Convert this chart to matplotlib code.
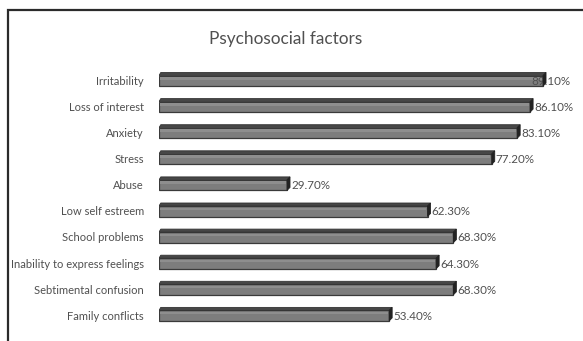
import matplotlib
matplotlib.use("Agg")
import matplotlib.pyplot as plt
from matplotlib.patches import Polygon, Rectangle

categories = [
    "Irritability",
    "Loss of interest",
    "Anxiety",
    "Stress",
    "Abuse",
    "Low self estreem",
    "School problems",
    "Inability to express feelings",
    "Sebtimental confusion",
    "Family conflicts",
]
values = [89.1, 86.1, 83.1, 77.2, 29.7, 62.3, 68.3, 64.3, 68.3, 53.4]
value_labels = ["89.10%", "86.10%", "83.10%", "77.20%", "29.70%",
                "62.30%", "68.30%", "64.30%", "68.30%", "53.40%"]
title = "Psychosocial factors"

W, H = 583, 341
fig = plt.figure(figsize=(W / 100, H / 100), dpi=100)
fig.patch.set_facecolor("white")

FONT = ["Lato", "DejaVu Sans"]
TEXT_COLOR = "#505050"

# axes: value 0 at x=159px, 4.31 px per percent; rows every 26.1 px starting at y=80px
x0_px, px_per_pct = 159, 4.31
row0_px, row_px = 80.0, 26.1
ax = fig.add_axes([x0_px / W, 0, 1 - x0_px / W, 1])
ax.set_xlim(0, (W - x0_px) / px_per_pct)
ax.set_ylim((H - row0_px) / row_px, -row0_px / row_px)
ax.axis("off")

# 3-D bar geometry in data units
dx = 3 / px_per_pct          # depth offset to the right
dy = 3 / row_px              # depth offset upwards
front_top = -4.5 / row_px
front_bot = 6.0 / row_px
label_limit = (570 - x0_px) / px_per_pct
label_gap = 1.0 / px_per_pct
label_w = 35 / px_per_pct

for i, (v, lab) in enumerate(zip(values, value_labels)):
    yt = i + front_top
    yb = i + front_bot
    # front face
    ax.add_patch(Rectangle((0, yt), v, yb - yt, facecolor="#7d7d7d",
                           edgecolor="#3a3a3a", linewidth=0.9, zorder=2))
    # light sheen on front face
    ax.add_patch(Rectangle((0.3, yt + 1.5 / row_px), v - 0.6, 2.5 / row_px,
                           facecolor="#8e8e8e", edgecolor="none", zorder=2.1))
    # top face
    ax.add_patch(Polygon([(0, yt), (dx * 0.6, yt - dy), (v + dx, yt - dy), (v, yt)],
                         closed=True, facecolor="#474747", edgecolor="#333333",
                         linewidth=0.6, zorder=2.2))
    # end face
    ax.add_patch(Polygon([(v, yt), (v + dx, yt - dy), (v + dx, yb - dy), (v, yb)],
                         closed=True, facecolor="#222222", edgecolor="#222222",
                         linewidth=0.6, zorder=4))
    # value label, kept inside the plot area on the right
    start = v + dx + label_gap
    if start + label_w > label_limit + 2 / px_per_pct:
        ax.text(label_limit, i + 0.05, lab, ha="right", va="center",
                fontsize=8.4, color=TEXT_COLOR, family=FONT, zorder=3)
    else:
        ax.text(start, i + 0.05, lab, ha="left", va="center",
                fontsize=8.4, color=TEXT_COLOR, family=FONT, zorder=3)
    # category label
    ax.text(-15 / px_per_pct, i + 0.05, categories[i], ha="right", va="center",
            fontsize=8.0, color=TEXT_COLOR, family=FONT, clip_on=False)

fig.text(286 / W, 1 - 39 / H, title, ha="center", va="center",
         fontsize=12.4, color=TEXT_COLOR, family=FONT)

# chart frame, open towards the lower right
fig.add_artist(Rectangle((7.5 / W, -0.1), 1.2, 1 - 9.5 / H + 0.1,
                         transform=fig.transFigure, facecolor="none",
                         edgecolor="#2b2b2b", linewidth=1.6))

fig.savefig("out.png", dpi=100, facecolor="white")
